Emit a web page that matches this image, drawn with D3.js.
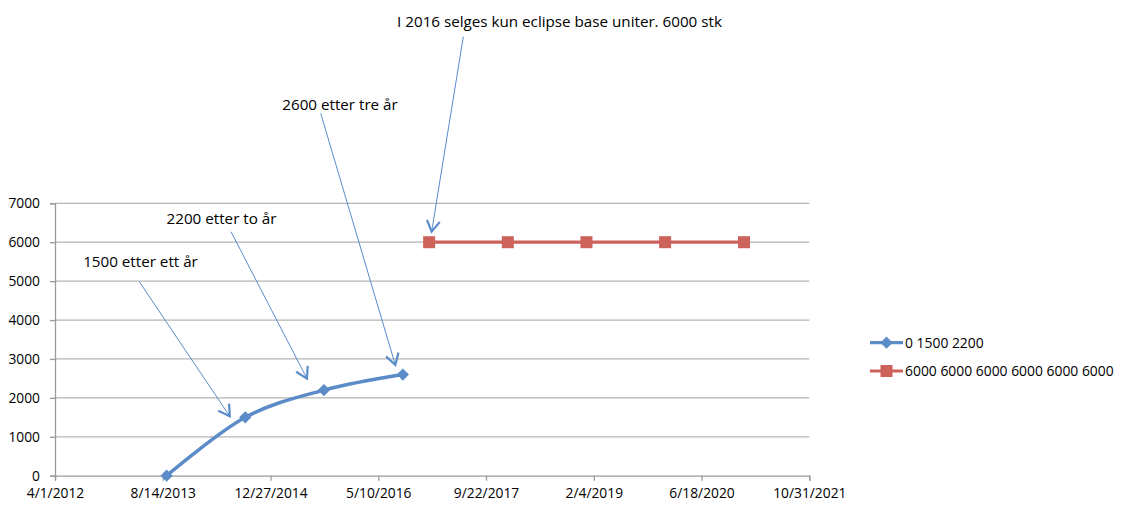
<!DOCTYPE html>
<html>
<head>
<meta charset="utf-8">
<script src="https://cdn.jsdelivr.net/npm/d3@7"></script>
<style>
  html, body { margin: 0; padding: 0; background: #fff; }
  svg { display: block; font-family: "Open Sans", "Noto Sans", sans-serif; }
</style>
</head>
<body>
<svg id="chart" width="1125" height="509"></svg>
<script>
// Series: first-years sales ramp and the flat eclipse base volume
const blueDates  = ["2013-09-01", "2014-09-01", "2015-09-01", "2016-09-01"];
const blueValues = [0, 1500, 2200, 2600];
const redDates   = ["2017-01-01", "2018-01-01", "2019-01-01", "2020-01-01", "2021-01-01"];
const redValues  = [6000, 6000, 6000, 6000, 6000];

const seriesNames = ["0 1500 2200", "6000 6000 6000 6000 6000 6000"];

// Axis ticks
const xTickLabels = ["4/1/2012", "8/14/2013", "12/27/2014", "5/10/2016",
                     "9/22/2017", "2/4/2019", "6/18/2020", "10/31/2021"];
const yTicks = [0, 1000, 2000, 3000, 4000, 5000, 6000, 7000];

// Callouts: text, the point they refer to, and where the text sits
const calloutTexts  = ["1500 etter ett år", "2200 etter to år", "2600 etter tre år",
                       "I 2016 selges kun eclipse base uniter. 6000 stk"];
const calloutDates  = ["2014-09-01", "2015-09-01", "2016-09-01", "2017-01-01"];
const calloutValues = [1500, 2200, 2600, 6000];

const parseMDY = d3.utcParse("%m/%d/%Y");
const parseISO = d3.utcParse("%Y-%m-%d");

const blue = blueDates.map((d, i) => ({ date: parseISO(d), value: blueValues[i] }));
const red  = redDates.map((d, i) => ({ date: parseISO(d), value: redValues[i] }));
const xTicks = xTickLabels.map(parseMDY);

const svg = d3.select("#chart");

const plot = { left: 55, right: 809.3, top: 203.3, bottom: 475.7 };

const x = d3.scaleUtc()
  .domain([xTicks[0], xTicks[xTicks.length - 1]])
  .range([plot.left, plot.right]);
const y = d3.scaleLinear()
  .domain([0, 7000])
  .range([plot.bottom, plot.top]);

const gridColor = "#b4b4b4";
const axisColor = "#9a9a9a";
const blueLine = "#5b8cc8";
const blueMark = "#5b8cc8";
const redLine  = "#cd625b";
const redMark  = "#cd625b";

// Horizontal gridlines
svg.append("g")
  .selectAll("line")
  .data(yTicks.filter(t => t > 0))
  .join("line")
  .attr("x1", plot.left)
  .attr("x2", plot.right)
  .attr("y1", d => y(d))
  .attr("y2", d => y(d))
  .attr("stroke", gridColor)
  .attr("stroke-width", 1.3);

// Y axis
const yAxis = svg.append("g")
  .attr("transform", `translate(${plot.left},0)`)
  .call(d3.axisLeft(y).tickValues(yTicks).tickSize(5).tickPadding(10).tickFormat(d3.format("d")));
yAxis.select(".domain").attr("stroke", axisColor).attr("stroke-width", 1.3);
yAxis.selectAll(".tick line").attr("stroke", axisColor).attr("stroke-width", 1.3);
yAxis.selectAll(".tick text")
  .attr("font-family", "Open Sans, sans-serif")
  .attr("font-size", 13.8)
  .attr("fill", "#000");

// X axis
const xAxis = svg.append("g")
  .attr("transform", `translate(0,${plot.bottom})`)
  .call(d3.axisBottom(x).tickValues(xTicks).tickSize(5).tickPadding(8)
    .tickFormat((d, i) => xTickLabels[i]));
xAxis.select(".domain").attr("stroke", axisColor).attr("stroke-width", 1.3);
xAxis.selectAll(".tick line").attr("stroke", axisColor).attr("stroke-width", 1.3);
xAxis.selectAll(".tick text")
  .attr("font-family", "Open Sans, sans-serif")
  .attr("font-size", 13.8)
  .attr("fill", "#000");

// Lines
const smooth = d3.line()
  .x(d => x(d.date))
  .y(d => y(d.value))
  .curve(d3.curveCardinal.tension(0));
const straight = d3.line()
  .x(d => x(d.date))
  .y(d => y(d.value));

svg.append("path")
  .datum(blue)
  .attr("d", smooth)
  .attr("fill", "none")
  .attr("stroke", blueLine)
  .attr("stroke-width", 3.5)
  .attr("stroke-linecap", "round");

svg.append("path")
  .datum(red)
  .attr("d", straight)
  .attr("fill", "none")
  .attr("stroke", redLine)
  .attr("stroke-width", 3.2);

// Markers
const diamond = d3.symbol().type(d3.symbolDiamond2).size(95);
svg.append("g")
  .selectAll("path")
  .data(blue)
  .join("path")
  .attr("transform", d => `translate(${x(d.date)},${y(d.value)})`)
  .attr("d", diamond)
  .attr("fill", blueMark);

svg.append("g")
  .selectAll("rect")
  .data(red)
  .join("rect")
  .attr("x", d => x(d.date) - 6)
  .attr("y", d => y(d.value) - 6)
  .attr("width", 12)
  .attr("height", 12)
  .attr("fill", redMark);

// Callouts with open arrowheads
const defs = svg.append("defs");
defs.append("marker")
  .attr("id", "openArrow")
  .attr("markerUnits", "userSpaceOnUse")
  .attr("viewBox", "-13 -8 15 16")
  .attr("refX", 0)
  .attr("refY", 0)
  .attr("markerWidth", 15)
  .attr("markerHeight", 16)
  .attr("orient", "auto")
  .append("path")
  .attr("d", "M-11,-6.5 L0,0 L-11,6.5")
  .attr("fill", "none")
  .attr("stroke", "#5a8ccc")
  .attr("stroke-width", 2.2)
  .attr("stroke-linejoin", "miter");

// label position, line start, and tip offset from the referenced point
const calloutLayout = [
  { tx: 140.5, ty: 267, sx: 139.3, sy: 281.7, dx: -15.5, dy: -1 },
  { tx: 221.5, ty: 224, sx: 231,   sy: 231.7, dx: -17,   dy: -11.5 },
  { tx: 340,   ty: 110, sx: 320.7, sy: 113.3, dx: -7.5,  dy: -9.5 },
  { tx: 559.5, ty: 27,  sx: 463.3, sy: 36.7,  dx: 2.5,   dy: -10.5 }
];

const callouts = svg.append("g");
calloutTexts.forEach((t, i) => {
  const L = calloutLayout[i];
  const px = x(parseISO(calloutDates[i]));
  const py = y(calloutValues[i]);
  callouts.append("line")
    .attr("x1", L.sx).attr("y1", L.sy)
    .attr("x2", px + L.dx).attr("y2", py + L.dy)
    .attr("stroke", "#5a8ccc")
    .attr("stroke-width", 1)
    .attr("marker-end", "url(#openArrow)");
  callouts.append("text")
    .attr("x", L.tx).attr("y", L.ty)
    .attr("text-anchor", "middle")
    .attr("font-size", 15.2)
    .attr("fill", "#000")
    .text(t);
});

// Legend
const legend = svg.append("g");
const legendRows = [
  { name: seriesNames[0], color: blueLine, y: 342.7, kind: "diamond" },
  { name: seriesNames[1], color: redLine,  y: 371,   kind: "square" }
];
legendRows.forEach(r => {
  legend.append("line")
    .attr("x1", 870).attr("x2", 903)
    .attr("y1", r.y).attr("y2", r.y)
    .attr("stroke", r.color)
    .attr("stroke-width", 3.2);
  if (r.kind === "diamond") {
    legend.append("path")
      .attr("transform", `translate(886.5,${r.y})`)
      .attr("d", diamond)
      .attr("fill", r.color);
  } else {
    legend.append("rect")
      .attr("x", 880.5).attr("y", r.y - 6)
      .attr("width", 12).attr("height", 12)
      .attr("fill", r.color);
  }
  legend.append("text")
    .attr("x", 905)
    .attr("y", r.y)
    .attr("dy", "0.35em")
    .attr("font-size", 13.9)
    .attr("fill", "#000")
    .text(r.name);
});
</script>
</body>
</html>
